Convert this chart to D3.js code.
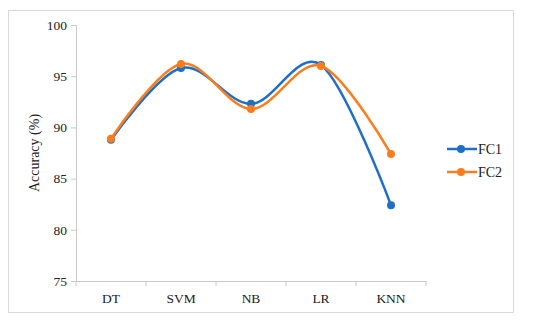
<!DOCTYPE html>
<html>
<head>
<meta charset="utf-8">
<script src="https://cdn.jsdelivr.net/npm/d3@7"></script>
<style>
  body { margin: 0; background: #fff; }
  svg text { font-family: "Liberation Serif", "Times New Roman", serif; fill: #222; }
</style>
</head>
<body>
<svg id="chart" width="550" height="322"></svg>
<script>
// chart data
var categories = ["DT", "SVM", "NB", "LR", "KNN"];
var fc1 = [88.8, 95.8, 92.3, 96.1, 82.4];
var fc2 = [88.9, 96.2, 91.8, 96.0, 87.4];
var yTicks = [75, 80, 85, 90, 95, 100];
var seriesNames = ["FC1", "FC2"];
var seriesColors = ["#1f6fc8", "#fb7d1d"];

var svg = d3.select("#chart");

// outer frame
svg.append("rect")
    .attr("x", 8.5).attr("y", 10.5)
    .attr("width", 505).attr("height", 302)
    .attr("fill", "#fff").attr("stroke", "#d9d9d9");

var plotLeft = 76, plotRight = 426, plotTop = 25, plotBottom = 281;

var x = d3.scaleBand().domain(categories).range([plotLeft, plotRight]);
var y = d3.scaleLinear().domain([75, 100]).range([plotBottom, plotTop]);

// y axis
var yAxis = svg.append("g")
    .attr("transform", "translate(" + plotLeft + ",0)")
    .call(d3.axisLeft(y).tickValues(yTicks).tickSize(5).tickPadding(4));
yAxis.select(".domain").attr("stroke", "#c8c8c8");
yAxis.selectAll(".tick line").attr("stroke", "#c8c8c8");
yAxis.selectAll("text")
    .style("font-size", "13.5px")
    .style("font-family", "'Liberation Serif', serif")
    .attr("fill", "#222");

// x axis
var xAxis = svg.append("g")
    .attr("transform", "translate(0," + plotBottom + ")")
    .call(d3.axisBottom(x).tickSize(0).tickPadding(12));
xAxis.select(".domain").attr("stroke", "#c8c8c8");
xAxis.selectAll("text")
    .style("font-size", "13.5px")
    .style("font-family", "'Liberation Serif', serif")
    .attr("fill", "#222");
// tick marks at band boundaries
var bounds = categories.map(function(c) { return x(c); }).concat([plotRight]);
svg.append("g").selectAll("line")
    .data(bounds)
    .join("line")
    .attr("x1", function(d) { return d; }).attr("x2", function(d) { return d; })
    .attr("y1", plotBottom).attr("y2", plotBottom + 5)
    .attr("stroke", "#c8c8c8");

// y title
svg.append("text")
    .attr("transform", "translate(39," + ((plotTop + plotBottom) / 2) + ") rotate(-90)")
    .attr("text-anchor", "middle")
    .style("font-size", "14px")
    .text("Accuracy (%)");

// series
var cx = function(i) { return x(categories[i]) + x.bandwidth() / 2; };
var line = d3.line()
    .x(function(d, i) { return cx(i); })
    .y(function(d) { return y(d); })
    .curve(d3.curveCardinal.tension(0));

[fc1, fc2].forEach(function(vals, s) {
    var g = svg.append("g");
    g.append("path")
        .attr("d", line(vals))
        .attr("fill", "none")
        .attr("stroke", seriesColors[s])
        .attr("stroke-width", 2.5);
    g.selectAll("circle")
        .data(vals)
        .join("circle")
        .attr("cx", function(d, i) { return cx(i); })
        .attr("cy", function(d) { return y(d); })
        .attr("r", 4)
        .attr("fill", seriesColors[s]);
});

// legend
seriesNames.forEach(function(name, i) {
    var ly = 149 + i * 23;
    svg.append("line")
        .attr("x1", 447).attr("x2", 477)
        .attr("y1", ly).attr("y2", ly)
        .attr("stroke", seriesColors[i]).attr("stroke-width", 2.5);
    svg.append("circle")
        .attr("cx", 461).attr("cy", ly).attr("r", 4)
        .attr("fill", seriesColors[i]);
    svg.append("text")
        .attr("x", 478).attr("y", ly + 5)
        .style("font-size", "14px")
        .text(name);
});
</script>
</body>
</html>
